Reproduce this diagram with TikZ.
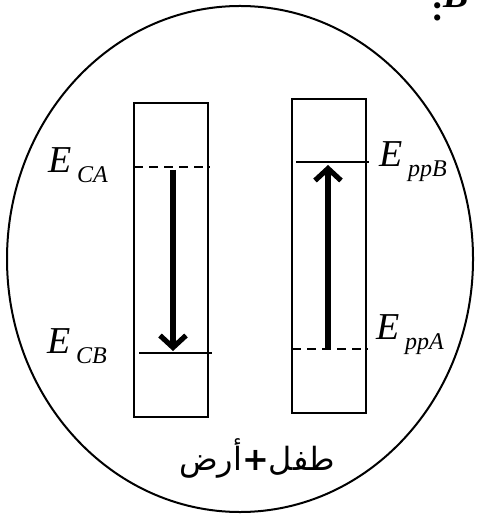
\documentclass[tikz,border=0pt]{standalone}
\usepackage{fontspec}
\setmainfont{Liberation Serif}
\newfontfamily\arabicfont[Script=Arabic]{DejaVu Sans}
\TeXXeTstate=1
\usetikzlibrary{arrows.meta}
\newcommand{\lvlname}[2]{\textit{E}\hspace{3pt}\raisebox{-5pt}{\fontsize{12}{12}\selectfont\textit{#2}}}
\begin{document}
\begin{tikzpicture}[x=0.5pt,y=-0.5pt,line width=1pt,
  band/.style={draw,rectangle,minimum width=37pt,minimum height=157pt,inner sep=0pt,line width=1pt},
  lvl/.style={line width=1pt},
  gap/.style={lvl,dash pattern=on 4.5pt off 3pt},
  lbl/.style={font=\fontsize{19}{19}\selectfont,inner sep=0pt,anchor=base west},
  trans/.style={line width=2.6pt,-{Straight Barb[length=6pt,width=13pt,line width=2.6pt]}}]
\useasboundingbox (0,0) rectangle (476,517);
\clip (0,0) rectangle (476,517);
\draw (240,259) ellipse [x radius=233,y radius=253];
\node[band] (bandA) at (171,260) {};
\node[band] (bandB) at (329,256) {};
% levels
\coordinate (ca1) at (134,167); \coordinate (ca2) at (210,167);
\coordinate (cb1) at (139,353); \coordinate (cb2) at (212,353);
\coordinate (pb1) at (296,162); \coordinate (pb2) at (369,162);
\coordinate (pa1) at (292,349); \coordinate (pa2) at (368,349);
\draw[gap] (ca1) -- (ca2);
\draw[lvl] (cb1) -- (cb2);
\draw[lvl] (pb1) -- (pb2);
\draw[gap] (pa1) -- (pa2);
% transitions
\coordinate (dn1) at (173,170); \coordinate (dn2) at (173,351);
\coordinate (up1) at (328,349); \coordinate (up2) at (328,165);
\draw[trans] (dn1) -- (dn2);
\draw[trans] (up1) -- (up2);
% labels
\node[lbl] (eca) at (47,173) {\lvlname{E}{CA}};
\node[lbl] (ecb) at (46,353) {\lvlname{E}{CB}};
\node[lbl] (epb) at (378,167) {\lvlname{E}{ppB}};
\node[lbl] (epa) at (375,339) {\lvlname{E}{ppA}};
\node[inner sep=0pt,anchor=center] (sys) at (257,458) {\fontsize{16}{16}\selectfont\arabicfont\beginR طفل\textbf{+}أرض\endR};
\node[inner sep=0pt,anchor=base west,font=\fontsize{19}{19}\selectfont\bfseries] (part) at (430,21) {:\raisebox{6.5pt}{\textit{B}}};
\end{tikzpicture}
\end{document}
